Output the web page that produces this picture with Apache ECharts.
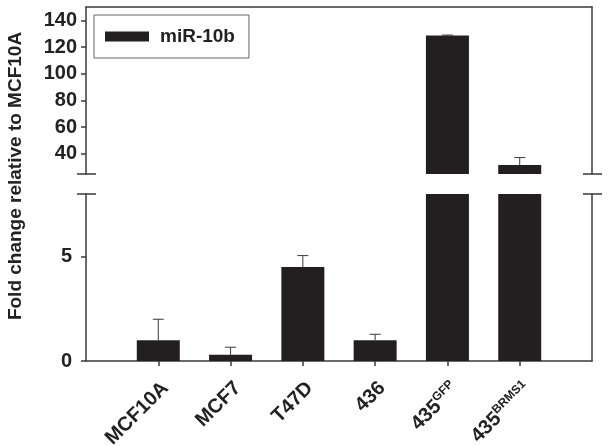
<!DOCTYPE html>
<html>
<head>
<meta charset="utf-8">
<script src="https://cdn.jsdelivr.net/npm/echarts@6/dist/echarts.min.js"></script>
<style>
html, body { margin: 0; padding: 0; background: #fff; }
#main { width: 609px; height: 446px; }
</style>
</head>
<body>
<div id="main"></div>
<script>
// values (fold change relative to MCF10A, mean and upper error)
const categories = ['MCF10A', 'MCF7', 'T47D', '436', '435GFP', '435BRMS1'];
const foldChange = [1.0, 0.3, 4.5, 1.0, 128.6, 31.8];
const errorUp = [1.0, 0.36, 0.55, 0.28, 0.4, 5.5];
const upperTicks = [40, 60, 80, 100, 120, 140];
const lowerTicks = [0, 5];
const upperRange = [25, 150];
const lowerRange = [0, 8];

const font = '"Liberation Sans", Arial, Helvetica, sans-serif';
const ink = '#231f20';
const axisColor = '#3a3a3a';

// one empty slot each side, the bars sit on slots 1..6
const xData = [''].concat(categories, ['']);
const pad = arr => [null].concat(arr, [null]);

const lowerBars = pad(foldChange);
const upperBars = pad(foldChange.map(v => v > lowerRange[1] ? v : null));
const lowerErr = [];
const upperErr = [];
foldChange.forEach(function (v, i) {
    const row = [i + 1, v, errorUp[i]];
    if (v > lowerRange[1]) { upperErr.push(row) } else { lowerErr.push(row) }
});

function labelFmt(value) {
    const m = /^(435)(.+)$/.exec(value);
    if (m) return '{b|' + m[1] + '}{s|' + m[2] + '}';
    return '{b|' + value + '}';
}

function renderError(params, api) {
    const x = api.value(0);
    const y = api.value(1);
    const e = api.value(2);
    const base = api.coord([x, y]);
    const top = api.coord([x, y + e]);
    const half = 5.5;
    const style = { stroke: axisColor, lineWidth: 1 };
    return {
        type: 'group',
        children: [
            { type: 'line', shape: { x1: base[0], y1: base[1], x2: top[0], y2: top[1] }, style: style },
            { type: 'line', shape: { x1: top[0] - half, y1: top[1], x2: top[0] + half, y2: top[1] }, style: style }
        ]
    };
}

const lineStyle = { color: axisColor, width: 1.5 };
const tickLabel = { fontFamily: font, fontSize: 20, fontWeight: 'bold', color: '#222' };

const chart = echarts.init(document.getElementById('main'), null, { renderer: 'canvas' });
chart.setOption({
    backgroundColor: '#fff',
    animation: false,
    grid: [
        { left: 86, right: 17, top: 7, height: 167, outerBoundsMode: 'none', containLabel: false },
        { left: 86, right: 17, top: 194, height: 167, outerBoundsMode: 'none', containLabel: false }
    ],
    legend: {
        data: ['miR-10b'],
        left: 94,
        top: 15,
        icon: 'rect',
        itemWidth: 44,
        itemHeight: 10,
        borderColor: '#666',
        borderWidth: 1,
        padding: [12, 14, 12, 11],
        textStyle: { fontFamily: font, fontSize: 19, fontWeight: 'bold', color: '#222', padding: [0, 0, 0, 6] }
    },
    xAxis: [{
        gridIndex: 0,
        type: 'category',
        data: xData,
        boundaryGap: false,
        position: 'top',
        axisLine: { show: true, onZero: false, lineStyle: lineStyle },
        axisTick: { show: false },
        axisLabel: { show: false },
        splitLine: { show: false }
    }, {
        gridIndex: 1,
        type: 'category',
        data: xData,
        boundaryGap: false,
        position: 'bottom',
        axisLine: { show: true, onZero: false, lineStyle: lineStyle },
        axisTick: {
            show: true,
            length: 5,
            lineStyle: lineStyle,
            interval: function (i) { return i > 0 && i < xData.length - 1 }
        },
        axisLabel: {
            interval: 0,
            rotate: 45,
            margin: 17,
            verticalAlign: 'top',
            formatter: labelFmt,
            rich: {
                b: { fontFamily: font, fontSize: 20, fontWeight: 'bold', color: '#222' },
                s: { fontFamily: font, fontSize: 12, fontWeight: 'bold', color: '#222', verticalAlign: 'top', padding: [0, 0, 11, 0] }
            }
        },
        splitLine: { show: false }
    }],
    yAxis: [{
        gridIndex: 0,
        type: 'value',
        min: upperRange[0],
        max: upperRange[1],
        axisLine: { show: true, lineStyle: lineStyle },
        axisTick: { show: true, length: 5, lineStyle: lineStyle, customValues: upperTicks },
        axisLabel: Object.assign({ margin: 9, customValues: upperTicks }, tickLabel),
        splitLine: { show: false }
    }, {
        gridIndex: 0,
        type: 'value',
        position: 'right',
        min: upperRange[0],
        max: upperRange[1],
        axisLine: { show: true, lineStyle: lineStyle },
        axisTick: { show: false },
        axisLabel: { show: false },
        splitLine: { show: false }
    }, {
        gridIndex: 1,
        type: 'value',
        min: lowerRange[0],
        max: lowerRange[1],
        axisLine: { show: true, lineStyle: lineStyle },
        axisTick: { show: true, length: 5, lineStyle: lineStyle, customValues: lowerTicks },
        axisLabel: Object.assign({ margin: 14, customValues: lowerTicks }, tickLabel),
        splitLine: { show: false }
    }, {
        gridIndex: 1,
        type: 'value',
        position: 'right',
        min: lowerRange[0],
        max: lowerRange[1],
        axisLine: { show: true, lineStyle: lineStyle },
        axisTick: { show: false },
        axisLabel: { show: false },
        splitLine: { show: false }
    }],
    series: [{
        name: 'miR-10b',
        type: 'bar',
        xAxisIndex: 0,
        yAxisIndex: 0,
        data: upperBars,
        barWidth: 43,
        clip: true,
        itemStyle: { color: ink }
    }, {
        name: 'miR-10b',
        type: 'bar',
        xAxisIndex: 1,
        yAxisIndex: 2,
        data: lowerBars,
        barWidth: 43,
        clip: true,
        itemStyle: { color: ink }
    }, {
        type: 'custom',
        xAxisIndex: 0,
        yAxisIndex: 0,
        data: upperErr,
        renderItem: renderError,
        clip: true,
        z: 5
    }, {
        type: 'custom',
        xAxisIndex: 1,
        yAxisIndex: 2,
        data: lowerErr,
        renderItem: renderError,
        clip: true,
        z: 5
    }],
    graphic: [{
        id: 'ytitle',
        type: 'text',
        x: 16,
        y: 176,
        rotation: Math.PI / 2,
        style: {
            text: 'Fold change relative to MCF10A',
            font: 'bold 19px ' + font,
            fill: '#222',
            textAlign: 'center',
            textVerticalAlign: 'middle'
        }
    }]
});

// axis break marks, placed from the axes themselves
const yTop = chart.convertToPixel({ yAxisIndex: 0 }, upperRange[0]);
const yBot = chart.convertToPixel({ yAxisIndex: 2 }, lowerRange[1]);
const xL = chart.convertToPixel({ xAxisIndex: 1 }, 0);
const xR = chart.convertToPixel({ xAxisIndex: 1 }, xData.length - 1);
const marks = [];
[xL, xR].forEach(function (x, i) {
    [yTop, yBot].forEach(function (y, j) {
        marks.push({
            id: 'brk' + i + j,
            type: 'line',
            shape: { x1: x - 9, y1: y, x2: x + 10, y2: y },
            style: { stroke: axisColor, lineWidth: 1.5 }
        });
    });
});
chart.setOption({ graphic: marks });
</script>
</body>
</html>
